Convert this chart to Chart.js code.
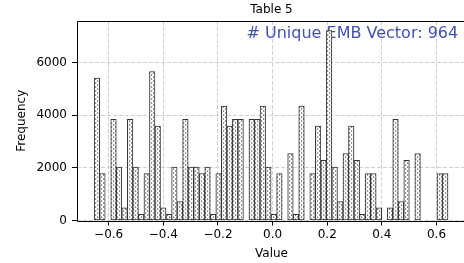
<!DOCTYPE html>
<html>
<head>
<meta charset="utf-8">
<script src="https://cdn.jsdelivr.net/npm/chart.js@4.4.1/dist/chart.umd.min.js"></script>
<style>
  html, body { margin: 0; padding: 0; background: #fff; overflow: hidden; }
  #wrap { width: 464px; height: 263px; overflow: hidden; position: relative; }
  canvas { display: block; }
</style>
</head>
<body>
<div id="wrap"><canvas id="c" width="520" height="263"></canvas></div>
<script>
// Histogram bin centers (bin width ~0.0202)
const binCenters = [
  -0.6430, -0.6228, -0.6025, -0.5823, -0.5620, -0.5418, -0.5216, -0.5013, -0.4811, -0.4608,
  -0.4406, -0.4204, -0.4001, -0.3799, -0.3596, -0.3394, -0.3192, -0.2989, -0.2787, -0.2584,
  -0.2382, -0.2180, -0.1977, -0.1775, -0.1572, -0.1370, -0.1168, -0.0965, -0.0763, -0.0560,
  -0.0358, -0.0156, 0.0047, 0.0249, 0.0452, 0.0654, 0.0856, 0.1059, 0.1261, 0.1464,
  0.1666, 0.1868, 0.2071, 0.2273, 0.2476, 0.2678, 0.2880, 0.3083, 0.3285, 0.3488,
  0.3690, 0.3892, 0.4095, 0.4297, 0.4500, 0.4702, 0.4904, 0.5107, 0.5309, 0.5512,
  0.5714, 0.5916, 0.6119, 0.6321
];
// Frequencies per bin
const frequencies = [
  5400, 1780, 0, 3835, 2030, 480, 3835, 2030, 230, 1780,
  5650, 3580, 480, 230, 2030, 720, 3835, 2030, 2030, 1780,
  2030, 230, 1780, 4340, 3580, 3835, 3835, 0, 3835, 3835,
  4340, 2030, 230, 1780, 0, 2540, 230, 4340, 0, 1780,
  3580, 2285, 7210, 2030, 720, 2540, 3580, 2285, 230, 1780,
  1780, 480, 0, 480, 3835, 720, 2285, 0, 2540, 0,
  0, 0, 1780, 1780
];
const xTickValues = [-0.6, -0.4, -0.2, 0.0, 0.2, 0.4, 0.6];
const yTickValues = [0, 2000, 4000, 6000];
const titleText = 'Table 5';
const annotationText = '# Unique EMB Vector: 964';
const xLabel = 'Value';
const yLabel = 'Frequency';

const FONT = '"DejaVu Sans", "Liberation Sans", sans-serif';

function makeHatch() {
  const t = document.createElement('canvas');
  t.width = 4; t.height = 4;
  const g = t.getContext('2d');
  g.fillStyle = '#ffffff';
  g.fillRect(0, 0, 4, 4);
  g.fillStyle = '#4a4a4a';
  g.fillRect(1, 0.5, 1.2, 1.2);
  g.fillRect(3, 2.5, 1.0, 1.2);
  g.fillRect(0, 2.5, 0.2, 1.2);
  return g.createPattern(t, 'repeat');
}

const ctx = document.getElementById('c').getContext('2d');
const hatch = makeHatch();

const decor = {
  id: 'decor',
  beforeDatasetsDraw(chart) {
    const {ctx, chartArea: a} = chart;
    ctx.save();
    ctx.fillStyle = '#3F51B5';
    ctx.font = '16px ' + FONT;
    ctx.textAlign = 'right';
    ctx.textBaseline = 'alphabetic';
    ctx.fillText(annotationText, a.left + (a.right - a.left) * 0.98, 37.5);
    ctx.restore();
  },
  afterDraw(chart) {
    const {ctx, chartArea: a} = chart;
    ctx.save();
    ctx.strokeStyle = '#000';
    ctx.lineWidth = 1;
    const L = Math.round(a.left) + 0.5, T = Math.round(a.top) + 0.5;
    const B = Math.round(a.bottom) + 0.5, R = a.right + 2;
    ctx.beginPath();
    ctx.moveTo(R, T); ctx.lineTo(L, T); ctx.lineTo(L, B); ctx.lineTo(R, B);
    ctx.stroke();
    ctx.fillStyle = '#000';
    ctx.font = '12px ' + FONT;
    ctx.textAlign = 'center';
    ctx.textBaseline = 'middle';
    ctx.fillText(titleText, (a.left + a.right) / 2, 9.5);
    ctx.restore();
  }
};

new Chart(ctx, {
  type: 'bar',
  data: {
    datasets: [{
      data: binCenters.map((x, i) => ({x: x, y: frequencies[i]})),
      backgroundColor: hatch,
      borderColor: '#333333',
      borderWidth: 1,
      borderSkipped: false,
      barPercentage: 1.0,
      categoryPercentage: 1.0
    }]
  },
  options: {
    responsive: false,
    animation: false,
    devicePixelRatio: 1,
    layout: { padding: { top: 21, right: 54, left: 0, bottom: 0 } },
    plugins: { legend: { display: false }, tooltip: { enabled: false }, title: { display: false } },
    scales: {
      x: {
        type: 'linear',
        offset: false,
        min: -0.716,
        max: 0.708,
        afterBuildTicks(scale) { scale.ticks = xTickValues.map(v => ({value: v})); },
        afterFit(scale) { scale.height = 42.5; },
        ticks: {
          color: '#000',
          font: { family: FONT, size: 12 },
          padding: 2,
          maxRotation: 0,
          autoSkip: false,
          callback: (v) => (v < 0 ? '\u2212' : '') + Math.abs(v).toFixed(1)
        },
        grid: { color: '#d0d0d0', tickColor: '#000', tickLength: 5, drawTicks: true, offset: false },
        border: { display: false, dash: [4, 2] },
        title: { display: true, text: xLabel, color: '#000', font: { family: FONT, size: 12 }, padding: { top: 0, bottom: 2 } }
      },
      y: {
        type: 'linear',
        min: 0,
        max: 7570,
        afterBuildTicks(scale) { scale.ticks = yTickValues.map(v => ({value: v})); },
        afterFit(scale) { scale.width = 77; },
        ticks: { color: '#000', font: { family: FONT, size: 12 }, padding: 5, callback: (v) => String(v) },
        grid: { color: '#d0d0d0', tickColor: '#000', tickLength: 5, drawTicks: true },
        border: { display: false, dash: [4, 2] },
        title: { display: true, text: yLabel, color: '#000', font: { family: FONT, size: 12 }, padding: { top: 15, bottom: 0 } }
      }
    }
  },
  plugins: [decor]
});
</script>
</body>
</html>
